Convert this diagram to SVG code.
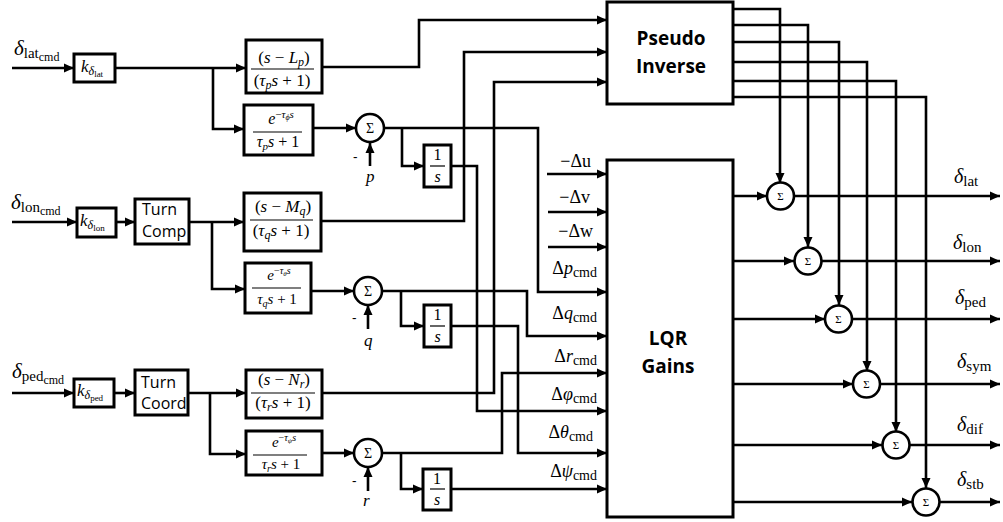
<svg xmlns="http://www.w3.org/2000/svg" width="1003" height="522" viewBox="0 0 1003 522">
<style>
.ln{fill:none;stroke:#000;stroke-width:2.6}
.bx{fill:#fff;stroke:#000;stroke-width:3}
.cr{fill:#fff;stroke:#000;stroke-width:2.6}
.bar{stroke:#000;stroke-width:1.2}
.m{font-family:"Liberation Serif","DejaVu Serif",serif;fill:#000}
.i{font-style:italic}
.s{font-family:"Open Sans","Liberation Sans",sans-serif;fill:#000}
.b{font-family:"Open Sans","Liberation Sans",sans-serif;font-weight:bold;fill:#000;font-size:19px}
</style>
<defs>
<marker id="ar" markerUnits="userSpaceOnUse" markerWidth="11" markerHeight="10" refX="10" refY="5" orient="auto"><path d="M0,0.5 L10,5 L0,9.5 z" fill="#000"/></marker>
</defs>

<g id="connectors" class="ln" marker-end="url(#ar)">
<path d="M12,68 H74"/>
<path d="M115,68 H246"/>
<path d="M213,68 V129 H244"/>
<path d="M322,67 H419 V20 H607"/>
<path d="M313,128 H356"/>
<path d="M370,166 V143"/>
<path d="M384,128 H538 V292 H607"/>
<path d="M402,128 V166 H424"/>
<path d="M451,166 H477 V411 H607"/>

<path d="M12,222 H77"/>
<path d="M116,222 H135"/>
<path d="M189,222 H244"/>
<path d="M212,222 V289 H245"/>
<path d="M321,221 H464 V52 H607"/>
<path d="M311,291 H354"/>
<path d="M368,329 V305"/>
<path d="M382,291 H527 V336 H607"/>
<path d="M401,291 V326 H424"/>
<path d="M451,326 H518 V453 H607"/>

<path d="M12,393 H74"/>
<path d="M114,393 H135"/>
<path d="M188,393 H246"/>
<path d="M210,393 V454 H246"/>
<path d="M322,393 H494 V82 H607"/>
<path d="M322,453 H354"/>
<path d="M368,491 V467"/>
<path d="M382,453 H502 V373 H607"/>
<path d="M401,453 V489 H423"/>
<path d="M451,489 H607"/>

<path d="M547,174 H607"/>
<path d="M548,212 H607"/>
<path d="M548,247 H607"/>

<path d="M733,9 H780 V183"/>
<path d="M733,25 H808 V247"/>
<path d="M733,42 H839 V305"/>
<path d="M733,62 H867 V371"/>
<path d="M733,81 H896 V432"/>
<path d="M733,97 H926 V488"/>

<path d="M733,196 H767"/>
<path d="M733,261 H794"/>
<path d="M733,319 H825"/>
<path d="M733,384 H853"/>
<path d="M733,445 H882"/>
<path d="M733,502 H912"/>

<path d="M794,196 H1000"/>
<path d="M822,261 H1000"/>
<path d="M852,319 H1000"/>
<path d="M880,384 H1000"/>
<path d="M910,445 H1000"/>
<path d="M940,502 H1000"/>
</g>

<g id="in_lat"><text class="m" x="14" y="55"><tspan class="i" font-size="21">δ</tspan><tspan font-size="15" dy="3">lat</tspan><tspan font-size="12" dy="3">cmd</tspan></text></g>
<g id="in_lon"><text class="m" x="11" y="209"><tspan class="i" font-size="21">δ</tspan><tspan font-size="15" dy="3">lon</tspan><tspan font-size="12" dy="3">cmd</tspan></text></g>
<g id="in_ped"><text class="m" x="12" y="378"><tspan class="i" font-size="21">δ</tspan><tspan font-size="15" dy="3">ped</tspan><tspan font-size="12" dy="3">cmd</tspan></text></g>

<g id="k_lat"><rect class="bx" x="74" y="54" width="41" height="28"/><text class="m" x="81" y="72"><tspan class="i" font-size="17">k</tspan><tspan class="i" font-size="12" dy="3">δ</tspan><tspan font-size="9" dy="2">lat</tspan></text></g>
<g id="k_lon"><rect class="bx" x="77" y="208" width="39" height="29"/><text class="m" x="80" y="226"><tspan class="i" font-size="17">k</tspan><tspan class="i" font-size="12" dy="3">δ</tspan><tspan font-size="9" dy="2">lon</tspan></text></g>
<g id="k_ped"><rect class="bx" x="74" y="379" width="40" height="28"/><text class="m" x="77" y="396"><tspan class="i" font-size="17">k</tspan><tspan class="i" font-size="12" dy="3">δ</tspan><tspan font-size="9" dy="2">ped</tspan></text></g>

<g id="turn_comp"><rect class="bx" x="135" y="199" width="54" height="45"/><text class="s" font-size="16" x="142" y="215">Turn</text><text class="s" font-size="16" x="142" y="237">Comp</text></g>
<g id="turn_coord"><rect class="bx" x="135" y="370" width="53" height="45"/><text class="s" font-size="16" x="141" y="388">Turn</text><text class="s" font-size="16" x="141" y="409">Coord</text></g>

<g id="tf_p"><rect class="bx" x="246" y="40" width="76" height="53"/>
<text class="m" x="284" y="63" text-anchor="middle" font-size="17">(<tspan class="i">s</tspan> − <tspan class="i">L</tspan><tspan class="i" font-size="12" dy="3">p</tspan><tspan dy="-3">)</tspan></text>
<line class="bar" x1="251" y1="69" x2="314" y2="69"/>
<text class="m" x="282" y="86" text-anchor="middle" font-size="17">(<tspan class="i">τ</tspan><tspan class="i" font-size="12" dy="3">p</tspan><tspan class="i" dy="-3">s</tspan> + 1)</text></g>

<g id="tf_q"><rect class="bx" x="244" y="193" width="77" height="58"/>
<text class="m" x="283" y="212" text-anchor="middle" font-size="17">(<tspan class="i">s</tspan> − <tspan class="i">M</tspan><tspan class="i" font-size="12" dy="3">q</tspan><tspan dy="-3">)</tspan></text>
<line class="bar" x1="250" y1="220" x2="313" y2="220"/>
<text class="m" x="281" y="236" text-anchor="middle" font-size="17">(<tspan class="i">τ</tspan><tspan class="i" font-size="12" dy="3">q</tspan><tspan class="i" dy="-3">s</tspan> + 1)</text></g>

<g id="tf_r"><rect class="bx" x="246" y="370" width="76" height="48"/>
<text class="m" x="284" y="385" text-anchor="middle" font-size="17">(<tspan class="i">s</tspan> − <tspan class="i">N</tspan><tspan class="i" font-size="12" dy="3">r</tspan><tspan dy="-3">)</tspan></text>
<line class="bar" x1="251" y1="393" x2="315" y2="393"/>
<text class="m" x="283" y="408" text-anchor="middle" font-size="17">(<tspan class="i">τ</tspan><tspan class="i" font-size="12" dy="3">r</tspan><tspan class="i" dy="-3">s</tspan> + 1)</text></g>

<g id="ex_p"><rect class="bx" x="244" y="105" width="69" height="50"/>
<text class="m" x="281" y="124" text-anchor="middle" font-size="16"><tspan class="i">e</tspan><tspan font-size="11" dy="-6">−</tspan><tspan class="i" font-size="11">τ</tspan><tspan class="i" font-size="8" dy="2">ϕ</tspan><tspan class="i" font-size="11" dy="-2">s</tspan></text>
<line class="bar" x1="253" y1="132" x2="302" y2="132"/>
<text class="m" x="278" y="147" text-anchor="middle" font-size="16"><tspan class="i">τ</tspan><tspan class="i" font-size="11" dy="3">p</tspan><tspan class="i" dy="-3">s</tspan> + 1</text></g>

<g id="ex_q"><rect class="bx" x="245" y="263" width="66" height="50"/>
<text class="m" x="279" y="280" text-anchor="middle" font-size="15"><tspan class="i">e</tspan><tspan font-size="10" dy="-6">−</tspan><tspan class="i" font-size="10">τ</tspan><tspan class="i" font-size="7" dy="2">θ</tspan><tspan class="i" font-size="10" dy="-2">s</tspan></text>
<line class="bar" x1="252" y1="288" x2="301" y2="288"/>
<text class="m" x="277" y="304" text-anchor="middle" font-size="15"><tspan class="i">τ</tspan><tspan class="i" font-size="10" dy="3">q</tspan><tspan class="i" dy="-3">s</tspan> + 1</text></g>

<g id="ex_r"><rect class="bx" x="246" y="431" width="76" height="44"/>
<text class="m" x="284" y="447" text-anchor="middle" font-size="15"><tspan class="i">e</tspan><tspan font-size="10" dy="-6">−</tspan><tspan class="i" font-size="10">τ</tspan><tspan class="i" font-size="7" dy="2">ψ</tspan><tspan class="i" font-size="10" dy="-2">s</tspan></text>
<line class="bar" x1="253" y1="455" x2="307" y2="455"/>
<text class="m" x="281" y="469" text-anchor="middle" font-size="15"><tspan class="i">τ</tspan><tspan class="i" font-size="10" dy="3">r</tspan><tspan class="i" dy="-3">s</tspan> + 1</text></g>

<g id="sum_p"><circle class="cr" cx="370" cy="128" r="14"/><text class="m" x="370" y="133" text-anchor="middle" font-size="14">Σ</text><text class="s" x="353" y="162" font-size="14">-</text><text class="m i" x="366" y="182" font-size="17">p</text></g>
<g id="sum_q"><circle class="cr" cx="368" cy="291" r="14"/><text class="m" x="368" y="296" text-anchor="middle" font-size="14">Σ</text><text class="s" x="352" y="323" font-size="14">-</text><text class="m i" x="364" y="346" font-size="17">q</text></g>
<g id="sum_r"><circle class="cr" cx="368" cy="453" r="14"/><text class="m" x="368" y="458" text-anchor="middle" font-size="14">Σ</text><text class="s" x="352" y="486" font-size="14">-</text><text class="m i" x="363" y="506" font-size="17">r</text></g>

<g id="int_p"><rect class="bx" x="424" y="145" width="27" height="42"/><text class="m" x="437.5" y="160" text-anchor="middle" font-size="16">1</text><line class="bar" x1="430" y1="166" x2="445" y2="166"/><text class="m i" x="437.5" y="182" text-anchor="middle" font-size="16">s</text></g>
<g id="int_q"><rect class="bx" x="424" y="305" width="27" height="42"/><text class="m" x="437.5" y="320" text-anchor="middle" font-size="16">1</text><line class="bar" x1="430" y1="326" x2="445" y2="326"/><text class="m i" x="437.5" y="342" text-anchor="middle" font-size="16">s</text></g>
<g id="int_r"><rect class="bx" x="423" y="469" width="28" height="41"/><text class="m" x="437" y="484" text-anchor="middle" font-size="16">1</text><line class="bar" x1="430" y1="489" x2="445" y2="489"/><text class="m i" x="437" y="505" text-anchor="middle" font-size="16">s</text></g>

<g id="pinv"><rect class="bx" x="607" y="2" width="126" height="102"/><text class="b" x="671" y="45" text-anchor="middle">Pseudo</text><text class="b" x="671" y="73" text-anchor="middle">Inverse</text></g>
<g id="lqr"><rect class="bx" x="607" y="160" width="126" height="357"/><text class="b" x="668" y="345" text-anchor="middle">LQR</text><text class="b" x="668" y="373" text-anchor="middle">Gains</text></g>

<g id="lqr_inputs" class="m">
<text x="591" y="167" text-anchor="end" font-size="18">−Δu</text>
<text x="590" y="203" text-anchor="end" font-size="18">−Δv</text>
<text x="593" y="237" text-anchor="end" font-size="18">−Δw</text>
<text x="597" y="274" text-anchor="end" font-size="18">Δ<tspan class="i">p</tspan><tspan font-size="14" dy="3">cmd</tspan></text>
<text x="597" y="319" text-anchor="end" font-size="18">Δ<tspan class="i">q</tspan><tspan font-size="14" dy="3">cmd</tspan></text>
<text x="597" y="362" text-anchor="end" font-size="18">Δ<tspan class="i">r</tspan><tspan font-size="14" dy="3">cmd</tspan></text>
<text x="597" y="400" text-anchor="end" font-size="18">Δ<tspan class="i">φ</tspan><tspan font-size="14" dy="3">cmd</tspan></text>
<text x="593" y="438" text-anchor="end" font-size="18">Δ<tspan class="i">θ</tspan><tspan font-size="14" dy="3">cmd</tspan></text>
<text x="597" y="477" text-anchor="end" font-size="18">Δ<tspan class="i">ψ</tspan><tspan font-size="14" dy="3">cmd</tspan></text>
</g>

<g id="sum_lat"><circle class="cr" cx="780.5" cy="196" r="13.5"/><text class="m" x="780.5" y="200" text-anchor="middle" font-size="11">Σ</text></g>
<g id="sum_lon"><circle class="cr" cx="808" cy="261" r="13.5"/><text class="m" x="808" y="265" text-anchor="middle" font-size="11">Σ</text></g>
<g id="sum_ped"><circle class="cr" cx="838.5" cy="319" r="13.5"/><text class="m" x="838.5" y="323" text-anchor="middle" font-size="11">Σ</text></g>
<g id="sum_sym"><circle class="cr" cx="866.5" cy="384" r="13.5"/><text class="m" x="866.5" y="388" text-anchor="middle" font-size="11">Σ</text></g>
<g id="sum_dif"><circle class="cr" cx="896" cy="445" r="13.5"/><text class="m" x="896" y="449" text-anchor="middle" font-size="11">Σ</text></g>
<g id="sum_stb"><circle class="cr" cx="926" cy="502" r="13.5"/><text class="m" x="926" y="506" text-anchor="middle" font-size="11">Σ</text></g>

<g id="outputs" class="m">
<text x="954" y="183"><tspan class="i" font-size="20">δ</tspan><tspan font-size="15" dy="3">lat</tspan></text>
<text x="953" y="249"><tspan class="i" font-size="20">δ</tspan><tspan font-size="15" dy="3">lon</tspan></text>
<text x="955" y="304"><tspan class="i" font-size="20">δ</tspan><tspan font-size="15" dy="3">ped</tspan></text>
<text x="957" y="368"><tspan class="i" font-size="20">δ</tspan><tspan font-size="15" dy="3">sym</tspan></text>
<text x="957" y="431"><tspan class="i" font-size="20">δ</tspan><tspan font-size="15" dy="3">dif</tspan></text>
<text x="957" y="486"><tspan class="i" font-size="20">δ</tspan><tspan font-size="15" dy="3">stb</tspan></text>
</g>
</svg>
